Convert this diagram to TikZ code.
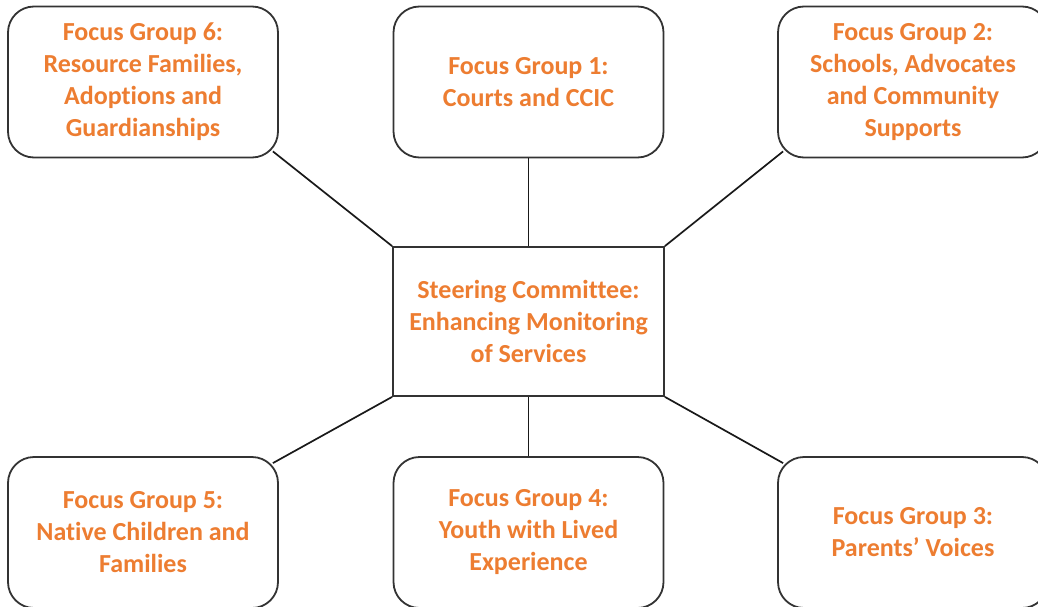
\documentclass[tikz,border=0pt]{standalone}
\usepackage{fontspec}
\setmainfont[Ligatures=NoCommon]{Carlito}
\usetikzlibrary{calc}
\definecolor{fgorange}{HTML}{ED7D31}
\definecolor{edgegray}{HTML}{333333}
\tikzset{
  fgbox/.style={draw=edgegray, line width=1.8pt, rounded corners=26pt,
    minimum width=270pt, minimum height=151pt, align=center,
    text=fgorange, font=\fontsize{26}{32}\selectfont\bfseries, inner sep=0pt},
  hubbox/.style={fgbox, rounded corners=0pt, minimum width=271pt, minimum height=149pt},
  link/.style={draw=black!90, line width=1.7pt}
}
\begin{document}
\begin{tikzpicture}[x=1pt,y=-1pt]
\path[use as bounding box, clip] (0,0) rectangle (1038,607);
\fill[white] (0,0) rectangle (1038,607);
\node[hubbox] (hub) at (528.5,321.5) {Steering Committee:\\Enhancing Monitoring\\of Services};
\node[fgbox] (fg6) at (143,82) {Focus Group 6:\\Resource Families,\\Adoptions and\\Guardianships};
\node[fgbox] (fg1) at (528.5,82) {Focus Group 1:\\Courts and CCIC};
\node[fgbox] (fg2) at (913,82) {Focus Group 2:\\Schools, Advocates\\and Community\\Supports};
\node[fgbox] (fg5) at (143,532.5) {Focus Group 5:\\Native Children and\\Families};
\node[fgbox] (fg4) at (528.5,532.5) {Focus Group 4:\\Youth with Lived\\Experience};
\node[fgbox] (fg3) at (913,532.5) {Focus Group 3:\\Parents’ Voices};
\draw[link] ($(fg6.south east)+(-6,-7)$) -- (hub.north west);
\draw[link] (fg1.south) -- (hub.north);
\draw[link] ($(fg2.south west)+(6,-7)$) -- (hub.north east);
\draw[link] ($(fg5.north east)+(-6,7)$) -- (hub.south west);
\draw[link] (fg4.north) -- (hub.south);
\draw[link] ($(fg3.north west)+(6,7)$) -- (hub.south east);
\end{tikzpicture}
\end{document}
